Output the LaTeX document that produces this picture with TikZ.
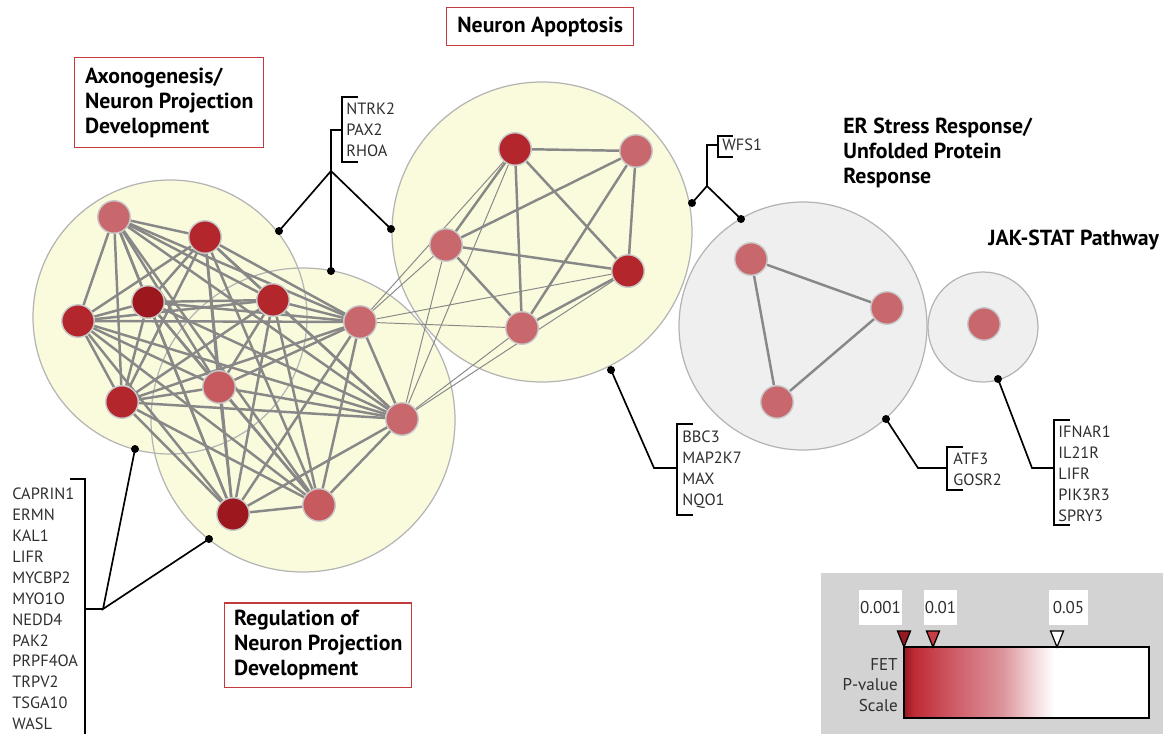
\documentclass[tikz,border=0pt]{standalone}
\usepackage{fontspec}
\setmainfont{PT Sans}
\usetikzlibrary{calc}

\definecolor{cream}{HTML}{FAFADC}
\definecolor{mist}{HTML}{EFEFEF}
\definecolor{discrim}{HTML}{B4B4B4}
\definecolor{generim}{HTML}{C8C8C8}
\definecolor{tiegray}{HTML}{888888}
\definecolor{rose}{HTML}{C8676C}
\definecolor{coral}{HTML}{C65A5F}
\definecolor{crimson}{HTML}{B3262C}
\definecolor{garnet}{HTML}{9C181E}
\definecolor{boxred}{HTML}{C23A3C}
\definecolor{textgray}{HTML}{2E2E2E}
\definecolor{legendgray}{HTML}{D3D3D3}
\definecolor{fetdark}{HTML}{951A20}
\definecolor{fetred}{HTML}{BE2A34}
\definecolor{fetmid}{HTML}{CC5560}
\definecolor{fetpale}{HTML}{DC949B}
\definecolor{fetblush}{HTML}{F1D3D6}
\definecolor{fetmark}{HTML}{C83C44}

\pgfdeclarehorizontalshading{fetscale}{100bp}{color(0bp)=(fetdark); color(25bp)=(fetdark); color(27bp)=(fetred); color(34bp)=(fetmid); color(45bp)=(fetpale); color(51bp)=(fetblush); color(55.6bp)=(white); color(100bp)=(white)}

\pgfdeclarelayer{discs}
\pgfdeclarelayer{links}
\pgfsetlayers{discs,links,main}

\begin{document}
\begin{tikzpicture}[
    x=0.02cm, y=-0.02cm,
    gene/.style={circle, draw=generim, line width=0.8pt, minimum size=0.65cm, inner sep=0pt},
    tie/.style={draw=tiegray, line width=1.4pt},
    faint/.style={draw=tiegray, line width=0.55pt},
    lead/.style={draw=black, line width=0.95pt},
    genes/.style={font=\fontsize{9.3}{11.9}\selectfont, align=left, inner sep=0pt, anchor=west, text=textgray},
    title/.style={font=\fontsize{12.4}{14.2}\selectfont\bfseries, align=left, text=black, inner sep=0pt},
    titlebox/.style={title, draw=boxred, line width=0.85pt},
    legendtext/.style={font=\fontsize{9.7}{11.6}\selectfont, text=textgray}
  ]
  \useasboundingbox (0,0) rectangle (1163,734);

  % module discs
  \begin{pgfonlayer}{discs}
    \fill [cream] (170,317) circle [radius=137];
    \fill [cream] (303,420) circle [radius=152];
    \fill [cream] (542,232) circle [radius=150];
    \fill [mist] (803,326) circle [radius=124];
    \fill [mist] (983,327) circle [radius=55];
    \draw [discrim, line width=0.7pt] (170,317) circle [radius=137];
    \draw [discrim, line width=0.7pt] (303,420) circle [radius=152];
    \draw [discrim, line width=0.7pt] (542,232) circle [radius=150];
    \draw [discrim, line width=0.7pt] (803,326) circle [radius=124];
    \draw [discrim, line width=0.7pt] (983,327) circle [radius=55];
  \end{pgfonlayer}

  % axonogenesis / projection genes
  \node [gene, fill=rose] (n1) at (114,217) {};
  \node [gene, fill=crimson] (n2) at (205,237) {};
  \node [gene, fill=garnet] (n3) at (148,302) {};
  \node [gene, fill=crimson] (n4) at (273,300) {};
  \node [gene, fill=crimson] (n5) at (78,321) {};
  \node [gene, fill=rose] (n6) at (360,322) {};
  \node [gene, fill=coral] (n7) at (219,387) {};
  \node [gene, fill=crimson] (n8) at (122,402) {};
  \node [gene, fill=rose] (n9) at (402,419) {};
  \node [gene, fill=garnet] (n10) at (233,514) {};
  \node [gene, fill=coral] (n11) at (319,505) {};

  % apoptosis genes
  \node [gene, fill=crimson] (a1) at (515,149) {};
  \node [gene, fill=rose] (a2) at (636,151) {};
  \node [gene, fill=rose] (a3) at (446,245) {};
  \node [gene, fill=crimson] (a4) at (628,271) {};
  \node [gene, fill=rose] (a5) at (522,328) {};

  % ER stress and JAK-STAT genes
  \node [gene, fill=rose] (e1) at (751,259) {};
  \node [gene, fill=rose] (e2) at (887,308) {};
  \node [gene, fill=rose] (e3) at (777,402) {};
  \node [gene, fill=rose] (j1) at (984,324) {};

  % interactions
  \begin{pgfonlayer}{links}
    \foreach \i in {1,...,10} {
      \pgfmathtruncatemacro\jfirst{\i+1}
      \foreach \j in {\jfirst,...,11}
        \draw [tie] (n\i) -- (n\j);
    }
    \foreach \i in {1,...,4} {
      \pgfmathtruncatemacro\jfirst{\i+1}
      \foreach \j in {\jfirst,...,5}
        \draw [tie] (a\i) -- (a\j);
    }
    \draw [tie] (e1) -- (e2) -- (e3) -- (e1);
    \foreach \s in {n6,n9}
      \foreach \t in {a1,a3,a4,a5}
        \draw [faint] (\s) -- (\t);
  \end{pgfonlayer}

  % pins on the discs
  \foreach \p/\x/\y in {pA/279/231, pB/331/271, pC/391/229, pD/692/203, pE/741/219,
      pF/611/370, pG/886/419, pH/998/379, pI/135/449, pJ/209/539}
    \fill (\x,\y) coordinate (\p) circle [radius=4];

  % NTRK2 bracket
  \coordinate (ntrkfork) at (331,171);
  \draw [lead] (358,97) -- (342,97) -- (342,162) -- (358,162);
  \draw [lead] (342,130) -- (331,130) -- (ntrkfork);
  \draw [lead] (pA) -- (ntrkfork) -- (pC);
  \draw [lead] (ntrkfork) -- (pB);
  \node [genes] (ntrklist) at (346,130) {NTRK2\\PAX2\\RHOA};

  % WFS1 bracket
  \coordinate (wfsfork) at (707,186);
  \draw [lead] (733,136) -- (718,136) -- (718,157) -- (733,157);
  \draw [lead] (718,145) -- (707,145) -- (wfsfork);
  \draw [lead] (pD) -- (wfsfork) -- (pE);
  \node [genes] (wfslist) at (722,145) {WFS1};

  % BBC3 bracket
  \draw [lead] (693,424) -- (677,424) -- (677,515) -- (693,515);
  \draw [lead] (pF) -- (654,468) -- (677,468);
  \node [genes] (bbclist) at (682,470) {BBC3\\MAP2K7\\MAX\\NQO1};

  % ATF3 bracket
  \draw [lead] (963,447) -- (947,447) -- (947,490) -- (963,490);
  \draw [lead] (pG) -- (918,468) -- (947,468);
  \node [genes] (atflist) at (953,469.5) {ATF3\\GOSR2};

  % IFNAR1 bracket
  \draw [lead] (1070,420) -- (1054,420) -- (1054,525) -- (1070,525);
  \draw [lead] (pH) -- (1032,468) -- (1054,468);
  \node [genes] (ifnlist) at (1058,474) {IFNAR1\\IL21R\\LIFR\\PIK3R3\\SPRY3};

  % CAPRIN1 bracket
  \coordinate (caprfork) at (103,609);
  \draw [lead] (70,479) -- (85,479) -- (85,734);
  \draw [lead] (85,609) -- (caprfork);
  \draw [lead] (pI) -- (caprfork) -- (pJ);
  \node [genes] (caprlist) at (12,609)
    {CAPRIN1\\ERMN\\KAL1\\LIFR\\MYCBP2\\MYO1O\\NEDD4\\PAK2\\PRPF4OA\\TRPV2\\TSGA10\\WASL};

  % module titles
  \node [titlebox, minimum width=3.78cm, minimum height=1.8cm, anchor=north west]
    (axontitle) at (74,57) {Axonogenesis/\\Neuron Projection\\Development};
  \node [titlebox, minimum width=3.74cm, minimum height=0.76cm, anchor=north west]
    (apoptitle) at (446,7) {Neuron Apoptosis};
  \node [titlebox, minimum width=3.74cm, minimum height=1.7cm, anchor=north west]
    (regtitle) at (224,602) {Regulation of\\Neuron Projection\\Development};
  \node [title, anchor=west] (ertitle) at (843,153) {ER Stress Response/\\Unfolded Protein\\Response};
  \node [title, anchor=west] (jaktitle) at (988,240) {JAK-STAT Pathway};

  % FET p-value scale
  \fill [legendgray] (821,573) rectangle (1163,734);
  \shade [shading=fetscale] (904,647) rectangle (1149,718);
  \draw [line width=0.9pt] (904,647) rectangle (1149,718);
  \foreach \x/\c in {904/fetdark, 933/fetmark, 1057/white}
    \filldraw [fill=\c, draw=black, line width=0.7pt] (\x-6.5,631) -- (\x+6.5,631) -- (\x,647) -- cycle;
  \node [legendtext, fill=white, minimum width=0.86cm, minimum height=0.7cm, inner sep=0pt] (p001) at (880.5,607.5) {0.001};
  \node [legendtext, fill=white, minimum width=0.66cm, minimum height=0.7cm, inner sep=0pt] (p01) at (940.5,607.5) {0.01};
  \node [legendtext, fill=white, minimum width=0.78cm, minimum height=0.7cm, inner sep=0pt] (p05) at (1068.5,607.5) {0.05};
  \node [legendtext, align=right, anchor=east, inner sep=0pt] (fetlabel) at (898,685) {FET\\P-value\\Scale};
\end{tikzpicture}
\end{document}
